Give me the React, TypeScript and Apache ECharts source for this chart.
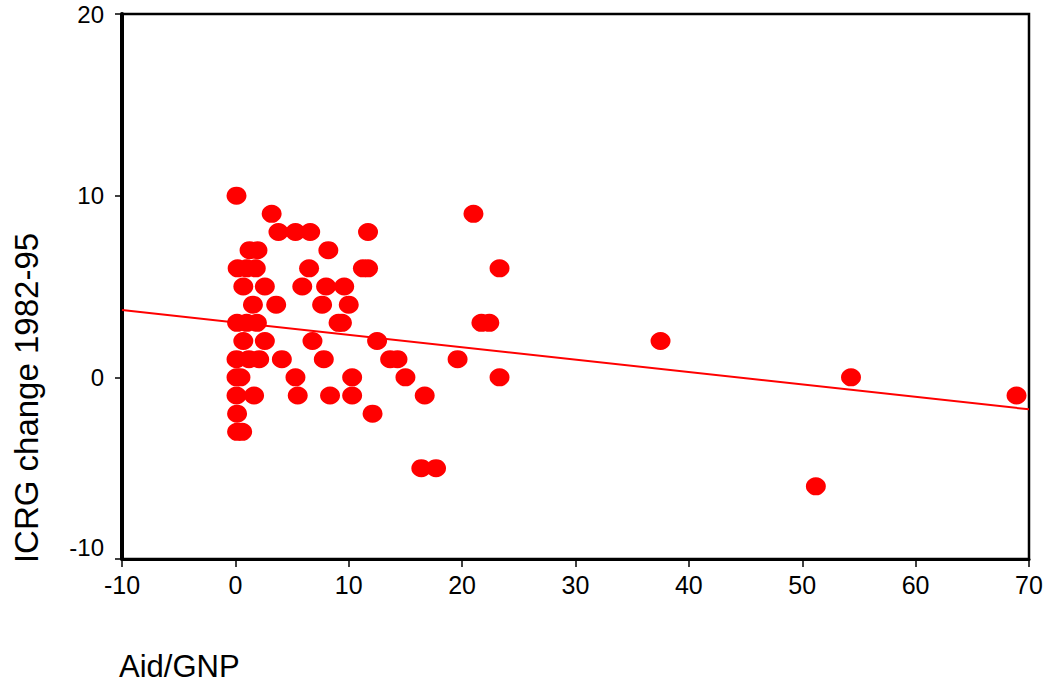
import React, { useEffect, useRef } from "react";
import * as echarts from "echarts";

// Aid/GNP (x) and ICRG change 1982-95 (y)
const aidGnp = [
  0.1,
  3.2, 21.0,
  3.8, 5.3, 6.6, 11.7,
  1.25, 1.95, 8.2,
  0.2, 1.0, 1.8, 6.5, 11.25, 11.7, 23.3,
  0.7, 2.6, 5.9, 8.0, 9.6,
  1.55, 3.6, 7.65, 10.0,
  0.15, 1.0, 1.9, 9.1, 9.4, 21.7, 22.4,
  0.7, 2.6, 6.8, 12.5, 37.5,
  0.1, 1.2, 2.1, 4.1, 7.8, 13.65, 14.3, 19.6,
  0.1, 0.45, 5.3, 10.3, 15.0, 23.3, 54.3,
  0.1, 1.65, 5.5, 8.35, 10.3, 16.7, 68.9,
  0.15, 12.1,
  0.15, 0.6,
  16.4, 17.7,
  51.2,
];
const icrgChange = [
  10,
  9, 9,
  8, 8, 8, 8,
  7, 7, 7,
  6, 6, 6, 6, 6, 6, 6,
  5, 5, 5, 5, 5,
  4, 4, 4, 4,
  3, 3, 3, 3, 3, 3, 3,
  2, 2, 2, 2, 2,
  1, 1, 1, 1, 1, 1, 1, 1,
  0, 0, 0, 0, 0, 0, 0,
  -1, -1, -1, -1, -1, -1, -1,
  -2, -2,
  -3, -3,
  -5, -5,
  -6,
];
// fitted regression line end points
const fitX = [-10, 70];
const fitY = [3.7, -1.76];

const xMin = -10;
const xMax = 70;
const xStep = 10;
const yMin = -10;
const yMax = 20;
const yStep = 10;

const xTitle = "Aid/GNP";
const yTitle = "ICRG change 1982-95";

const FONT = "'Liberation Sans', Arial, Helvetica, sans-serif";

export default function App() {
  const ref = useRef<HTMLDivElement>(null);
  useEffect(() => {
    if (!ref.current) return;
    const chart = echarts.init(ref.current, null, { renderer: "svg" });
    const points = aidGnp.map((x, i) => [x, icrgChange[i]]);
    const fit = fitX.map((x, i) => [x, fitY[i]]);
    chart.setOption({
      animation: false,
      backgroundColor: "#ffffff",
      grid: {
        left: 122,
        right: 21,
        top: 14,
        bottom: 128,
        show: true,
        borderColor: "#000",
        borderWidth: 2.5,
        backgroundColor: "transparent",
      },
      xAxis: {
        type: "value",
        min: xMin,
        max: xMax,
        interval: xStep,
        splitLine: { show: false },
        axisLine: { show: true, onZero: false, lineStyle: { color: "#000", width: 3 } },
        axisTick: { show: true, inside: false, length: 8, lineStyle: { color: "#000", width: 1.5 } },
        axisLabel: { color: "#000", fontSize: 25, fontFamily: FONT, margin: 13 },
      },
      yAxis: {
        type: "value",
        min: yMin,
        max: yMax,
        interval: yStep,
        splitLine: { show: false },
        axisLine: { show: true, onZero: false, lineStyle: { color: "#000", width: 4 } },
        axisTick: { show: true, inside: false, length: 7, lineStyle: { color: "#000", width: 1.5 } },
        axisLabel: {
          color: "#000",
          fontSize: 24,
          fontFamily: FONT,
          margin: 18,
          formatter: (v: number) => (v === yMin ? `{low|${v}}` : `${v}`),
          rich: {
            low: { fontSize: 24, fontFamily: FONT, color: "#000", padding: [0, 0, 24, 0] },
          },
        },
      },
      graphic: [
        {
          type: "text",
          x: 26,
          y: 398,
          rotation: Math.PI / 2,
          style: {
            text: yTitle,
            font: `33px ${FONT}`,
            fill: "#000",
            textAlign: "center",
            textVerticalAlign: "middle",
          },
        },
        {
          type: "text",
          x: 119,
          y: 666,
          style: {
            text: xTitle,
            font: `31px ${FONT}`,
            fill: "#000",
            textAlign: "left",
            textVerticalAlign: "middle",
          },
        },
      ],
      series: [
        {
          type: "line",
          data: fit,
          symbol: "none",
          lineStyle: { color: "#ff0000", width: 2 },
          z: 2,
        },
        {
          type: "scatter",
          data: points,
          symbol: "circle",
          symbolSize: [20, 18],
          itemStyle: { color: "#ff0000", opacity: 1 },
          z: 3,
        },
      ],
    });
    return () => chart.dispose();
  }, []);
  return (
    <div
      ref={ref}
      style={{ position: "fixed", left: 0, top: 0, width: 1050, height: 687, background: "#fff" }}
    />
  );
}
